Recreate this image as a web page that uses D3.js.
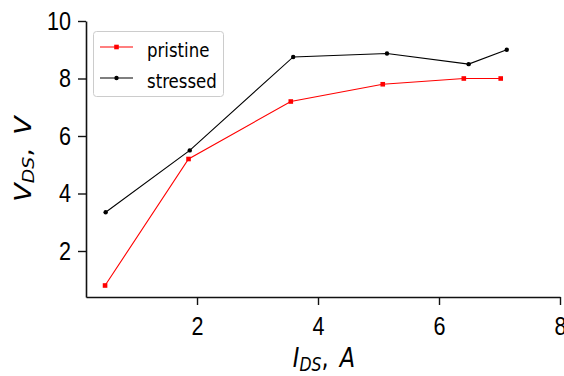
<!DOCTYPE html>
<html>
<head>
<meta charset="utf-8">
<script src="https://cdn.jsdelivr.net/npm/d3@7"></script>
<style>
  html, body { margin: 0; padding: 0; background: #fff; }
  svg { display: block; font-family: "DejaVu Sans", sans-serif; }
</style>
</head>
<body>
<svg id="chart" width="564" height="376"></svg>
<script>
// data
const pristineI = [0.48, 1.86, 3.55, 5.07, 6.41, 7.02];
const pristineV = [0.80, 5.20, 7.20, 7.80, 8.00, 8.00];
const stressedI = [0.49, 1.88, 3.59, 5.14, 6.49, 7.12];
const stressedV = [3.35, 5.50, 8.75, 8.87, 8.50, 9.00];
const xTicks = [2, 4, 6, 8];
const yTicks = [2, 4, 6, 8, 10];
const seriesNames = ["pristine", "stressed"];

const sx = 0.83; // the picture is squeezed sideways a little
const margin = { left: 86, top: 21, right: 4, bottom: 79 };
const width = 564 - margin.left - margin.right;
const height = 376 - margin.top - margin.bottom;

const svg = d3.select("#chart");
const g = svg.append("g").attr("transform", `translate(${margin.left},${margin.top})`);

const x = d3.scaleLinear().domain([0.165, 8]).range([0, width]);
const y = d3.scaleLinear().domain([0.4, 10]).range([height, 0]);

// x axis
const xAxis = g.append("g")
  .attr("transform", `translate(0,${height})`)
  .call(d3.axisBottom(x).tickValues(xTicks).tickFormat(d3.format("d")).tickSize(8).tickPadding(12).tickSizeOuter(0));
xAxis.selectAll("text")
  .attr("font-size", 26).attr("fill", "#000")
  .attr("transform", `scale(${sx},1)`);

// y axis
const yAxis = g.append("g")
  .call(d3.axisLeft(y).tickValues(yTicks).tickFormat(d3.format("d")).tickSize(8).tickPadding(7).tickSizeOuter(0));
yAxis.selectAll("text")
  .attr("font-size", 26).attr("fill", "#000")
  .attr("x", null)
  .attr("transform", `translate(-15,0) scale(${sx},1)`);

[xAxis, yAxis].forEach(a => {
  a.select(".domain").attr("stroke", "#111").attr("stroke-width", 1.6);
  a.selectAll(".tick line").attr("stroke", "#111").attr("stroke-width", 1.4);
});

// series
const pristine = pristineI.map((d, i) => [d, pristineV[i]]);
const stressed = stressedI.map((d, i) => [d, stressedV[i]]);
const line = d3.line().x(d => x(d[0])).y(d => y(d[1]));

g.append("path").datum(stressed)
  .attr("fill", "none").attr("stroke", "#000").attr("stroke-width", 1.1).attr("d", line);
g.selectAll(".sdot").data(stressed).enter().append("circle")
  .attr("cx", d => x(d[0])).attr("cy", d => y(d[1])).attr("r", 2.2).attr("fill", "#000");

g.append("path").datum(pristine)
  .attr("fill", "none").attr("stroke", "#ff0000").attr("stroke-width", 1.1).attr("d", line);
g.selectAll(".pdot").data(pristine).enter().append("rect")
  .attr("x", d => x(d[0]) - 2.3).attr("y", d => y(d[1]) - 2.3)
  .attr("width", 4.6).attr("height", 4.6).attr("fill", "#ff0000");

// legend
const legend = svg.append("g");
legend.append("rect")
  .attr("x", 93.5).attr("y", 31.5).attr("width", 130).attr("height", 65).attr("rx", 3)
  .attr("fill", "#fff").attr("fill-opacity", 0.8).attr("stroke", "#ccc").attr("stroke-width", 1);
const colors = ["#ff0000", "#000"];
seriesNames.forEach((name, i) => {
  const ly = 47 + i * 31;
  legend.append("line").attr("x1", 100).attr("x2", 133).attr("y1", ly).attr("y2", ly)
    .attr("stroke", colors[i]).attr("stroke-width", 1.1);
  if (i === 0) {
    legend.append("rect").attr("x", 114.2).attr("y", ly - 2.3).attr("width", 4.6).attr("height", 4.6).attr("fill", colors[i]);
  } else {
    legend.append("circle").attr("cx", 116.5).attr("cy", ly).attr("r", 2.2).attr("fill", colors[i]);
  }
  legend.append("text")
    .attr("transform", `translate(147,${ly + 9.5}) scale(${sx},1)`)
    .attr("font-size", 20).attr("fill", "#000").text(name);
});

// axis labels
function mathLabel(sel, main, sub, unit) {
  sel.append("tspan").attr("font-style", "italic").text(main);
  sel.append("tspan").attr("font-style", "italic").attr("font-size", "0.7em").attr("dy", "0.22em").text(sub);
  sel.append("tspan").attr("dy", "-0.15em").text(",\u2002");
  sel.append("tspan").attr("font-style", "italic").text(unit);
}
const xl = svg.append("text")
  .attr("transform", `translate(${margin.left + width / 2 + 1},367) scale(${sx},1)`)
  .attr("text-anchor", "middle").attr("font-size", 27).attr("fill", "#000");
mathLabel(xl, "I", "DS", "A");

const yl = svg.append("text")
  .attr("transform", `translate(31,${margin.top + height / 2}) scale(${sx},1) rotate(-90)`)
  .attr("text-anchor", "middle").attr("font-size", 27).attr("fill", "#000");
mathLabel(yl, "V", "DS", "V");
</script>
</body>
</html>
